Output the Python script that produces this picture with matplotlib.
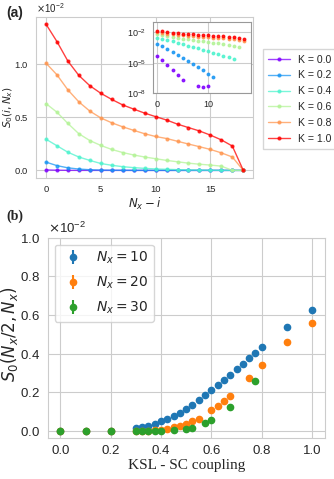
import numpy as np
import matplotlib
matplotlib.use("Agg")
import matplotlib.pyplot as plt
import seaborn as sns

sns.set_style("whitegrid")
plt.rcParams['font.family'] = ['Liberation Sans', 'DejaVu Sans']
plt.rcParams['mathtext.fontset'] = 'dejavusans'

# ---- panel (a): S0(i, Nx) vs Nx - i, one curve per K ----
k_values = [0.0, 0.2, 0.4, 0.6, 0.8, 1.0]
n_minus_i = list(range(19))
s0_k00 = [4.4e-5, 1.7e-5, 5.5e-6, 1.8e-6, 6.8e-7, 2.2e-7, -1e-9, -1e-9, 5.9e-8, 4.7e-8,
          5.9e-8, 0, 0, 0, 0, 0, 0, 0, 0]
s0_k02 = [7.8e-4, 4.5e-4, 2.4e-4, 1.26e-4, 6.3e-5, 3.2e-5, 1.6e-5, 7.9e-6, 4.0e-6, 2.0e-6,
          8.9e-7, 4.0e-7, 0, 0, 0, 0, 0, 0, 0]
s0_k04 = [2.94e-3, 2.32e-3, 1.71e-3, 1.26e-3, 9.4e-4, 6.5e-4, 4.8e-4, 3.5e-4, 2.6e-4, 1.9e-4,
          1.35e-4, 1.0e-4, 7.2e-5, 5.1e-5, 3.4e-5, 2.2e-5, 0, 0, 0]
s0_k06 = [6.29e-3, 5.48e-3, 4.42e-3, 3.45e-3, 2.81e-3, 2.35e-3, 1.97e-3, 1.68e-3, 1.45e-3, 1.26e-3,
          1.10e-3, 9.4e-4, 8.1e-4, 6.8e-4, 5.8e-4, 5.0e-4, 4.0e-4, 0, 0]
s0_k08 = [1.01e-2, 9.0e-3, 7.58e-3, 6.45e-3, 5.58e-3, 4.94e-3, 4.48e-3, 4.10e-3, 3.77e-3, 3.45e-3,
          3.19e-3, 3.00e-3, 2.74e-3, 2.48e-3, 2.23e-3, 1.97e-3, 1.65e-3, 1.26e-3, 0]
s0_k10 = [1.377e-2, 1.213e-2, 1.029e-2, 8.94e-3, 7.97e-3, 7.26e-3, 6.68e-3, 6.16e-3, 5.77e-3, 5.39e-3,
          5.06e-3, 4.74e-3, 4.35e-3, 4.03e-3, 3.71e-3, 3.32e-3, 2.87e-3, 2.29e-3, 0]
s0_curves = [s0_k00, s0_k02, s0_k04, s0_k06, s0_k08, s0_k10]

# ---- panel (b): S0(Nx/2, Nx) vs coupling, values in units of 1e-2 ----
x_n10 = [0.0, 0.1, 0.2, 0.3, 0.325, 0.35, 0.375, 0.4, 0.425, 0.45, 0.475, 0.5, 0.525, 0.55,
         0.575, 0.6, 0.625, 0.65, 0.675, 0.7, 0.725, 0.75, 0.775, 0.8, 0.9, 1.0]
s_n10 = [0, 0, 0, 0.015, 0.022, 0.028, 0.036, 0.05, 0.062, 0.078, 0.093, 0.114, 0.135, 0.159,
         0.185, 0.21, 0.236, 0.266, 0.292, 0.321, 0.348, 0.377, 0.405, 0.434, 0.537, 0.624]
x_n20 = [0.0, 0.1, 0.2, 0.3, 0.325, 0.35, 0.375, 0.4, 0.425, 0.45, 0.475, 0.5, 0.525, 0.55,
         0.6, 0.625, 0.65, 0.675, 0.75, 0.8, 0.9, 1.0]
s_n20 = [0, 0, 0, 0.001, 0.001, 0.002, 0.003, 0.006, 0.013, 0.02, 0.027, 0.036, 0.05, 0.064,
         0.107, 0.128, 0.154, 0.181, 0.276, 0.34, 0.462, 0.56]
x_n30 = [0.0, 0.1, 0.2, 0.3, 0.325, 0.35, 0.375, 0.4, 0.45, 0.5, 0.525, 0.575, 0.6, 0.675, 0.775]
s_n30 = [0.001, 0.001, 0.001, 0.001, 0.001, 0.001, 0.001, 0.001, 0.006, 0.013, 0.018, 0.04,
         0.057, 0.124, 0.257]
series_b = [(x_n10, s_n10, '#1f77b4', r"$N_x = 10$"),
            (x_n20, s_n20, '#ff7f0e', r"$N_x = 20$"),
            (x_n30, s_n30, '#2ca02c', r"$N_x = 30$")]

fig = plt.figure(figsize=(3.34, 4.79), dpi=100)

# main axes (a)
ax1 = fig.add_axes([0.108, 0.629, 0.650, 0.336])
colors = plt.cm.rainbow(np.linspace(0, 1, len(k_values)))
for k, vals, c in zip(k_values, s0_curves, colors):
    ax1.plot(n_minus_i, vals, '-o', color=c, lw=1.0, ms=2.0, alpha=0.75, label=f"K = {k:.1f}")
ax1.set_xticks([0, 5, 10, 15])
ax1.set_yticks([0, 0.005, 0.01])
ax1.ticklabel_format(axis='y', style='sci', scilimits=(0, 0), useMathText=True)
ax1.yaxis.get_offset_text().set_fontsize(7)
ax1.tick_params(labelsize=6.8, pad=2)
ax1.set_xlabel(r"$N_x - i$", fontsize=8.5, labelpad=1)
ax1.set_ylabel(r"$S_0(i, N_x)$", fontsize=7.6)
ax1.yaxis.set_label_coords(-0.098, 0.44)
fig.legend(loc='upper left', bbox_to_anchor=(0.772, 0.908), fontsize=7.6,
           handlelength=2.0, labelspacing=0.55, borderpad=0.5, frameon=True,
           edgecolor='0.8', fancybox=False)

# inset: same data on log scale, markers only
axin = fig.add_axes([0.457, 0.805, 0.293, 0.1495])
for vals, c in zip(s0_curves, colors):
    v = np.array(vals, dtype=float)
    v[v <= 0] = np.nan
    axin.plot(n_minus_i, v, 'o', color=c, ms=1.8, alpha=0.85)
axin.set_yscale('log')
axin.set_xlim(-0.9, 18.3)
axin.set_ylim(10 ** -7.9, 10 ** -0.97)
axin.set_yticks([1e-2, 1e-5, 1e-8])
axin.minorticks_off()
axin.set_xticks([0, 10])
axin.tick_params(labelsize=6.5, pad=1.5)
for sp in axin.spines.values():
    sp.set_color('0.6')

# panel (b)
ax2 = fig.add_axes([0.143, 0.086, 0.829, 0.418])
for xs, ys, c, lab in series_b:
    ys = np.array(ys) * 1e-2
    ax2.errorbar(xs, ys, yerr=np.zeros(len(ys)), fmt='o', ms=4.5, color=c, label=lab)
ax2.set_ylim(-0.035e-2, 1.0e-2)
ax2.set_xlim(-0.05, 1.05)
ax2.set_xticks([0, 0.2, 0.4, 0.6, 0.8, 1.0])
ax2.set_yticks([0, 0.002, 0.004, 0.006, 0.008, 0.01])
ax2.ticklabel_format(axis='y', style='sci', scilimits=(0, 0), useMathText=True)
ax2.yaxis.get_offset_text().set_fontsize(9.5)
ax2.tick_params(labelsize=9.5, pad=2)
ax2.set_xlabel("KSL - SC coupling", fontsize=11, family='Liberation Serif', labelpad=1)
ax2.set_ylabel(r"$S_0(N_x/2, N_x)$", fontsize=12)
ax2.yaxis.set_label_coords(-0.10, 0.52)
ax2.legend(loc='upper left', fontsize=10, labelspacing=0.6, handlelength=1.8,
           edgecolor='0.8')

fig.text(0.02, 0.973, "(a)", fontsize=10, fontweight='bold', va='center')
fig.text(0.02, 0.548, "(b)", fontsize=10, fontweight='bold', va='center',
         family='Liberation Serif')

plt.savefig('out.png', dpi=100)
